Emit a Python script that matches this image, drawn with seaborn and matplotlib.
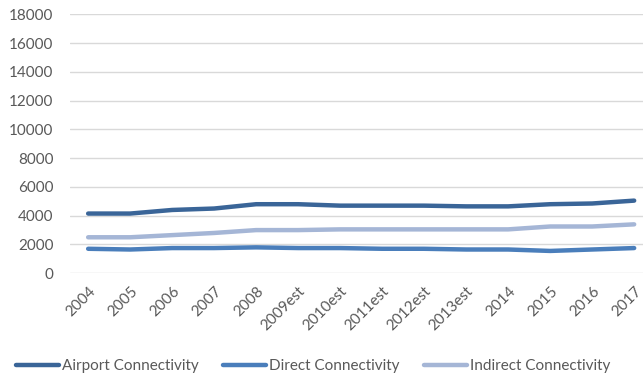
import pandas as pd
import seaborn as sns
import matplotlib.pyplot as plt

# Dados
years = ['2004', '2005', '2006', '2007', '2008', '2009est', '2010est', '2011est',
         '2012est', '2013est', '2014', '2015', '2016', '2017']
airport = [4150, 4150, 4400, 4500, 4800, 4800, 4700, 4700, 4700, 4650, 4650, 4800, 4850, 5050]
direct = [1700, 1650, 1750, 1750, 1800, 1750, 1750, 1700, 1700, 1650, 1650, 1550, 1650, 1750]
indirect = [2500, 2500, 2650, 2800, 3000, 3000, 3050, 3050, 3050, 3050, 3050, 3250, 3250, 3400]
series = ['Airport Connectivity', 'Direct Connectivity', 'Indirect Connectivity']
colors = ['#3A6598', '#4A7EBB', '#A5B6D6']

df = pd.DataFrame({'year': years, series[0]: airport, series[1]: direct, series[2]: indirect})
df = df.melt(id_vars='year', var_name='serie', value_name='valor')

sns.set_style('white')
plt.rcParams['font.family'] = ['Lato', 'DejaVu Sans']

fig, ax = plt.subplots(figsize=(6.43, 3.80), dpi=100)
fig.subplots_adjust(left=0.109, right=1.0, bottom=0.281, top=0.962)

sns.lineplot(data=df, x='year', y='valor', hue='serie', palette=colors,
             linewidth=3.2, sort=False, ax=ax, legend=True)

ax.set_ylim(0, 18000)
ax.set_yticks(range(0, 18001, 2000))
ax.set_xlim(-0.43, len(years) - 0.79)
ax.grid(axis='y', color='#D9D9D9', linewidth=1)
ax.set_axisbelow(True)
for s in ax.spines.values():
    s.set_visible(False)
ax.set_xlabel('')
ax.set_ylabel('')
ax.tick_params(axis='both', length=0, labelsize=11, labelcolor='#595959')
ax.tick_params(axis='y', pad=12)
ax.tick_params(axis='x', pad=8)
plt.xticks(rotation=45, ha='right', rotation_mode='anchor')

ax.legend(loc='lower left', bbox_to_anchor=(-0.118, -0.44), ncol=3, frameon=False,
          fontsize=11, handlelength=2.8, handletextpad=0.2, columnspacing=1.6,
          labelcolor='#595959')

plt.savefig('out.png', dpi=100)
